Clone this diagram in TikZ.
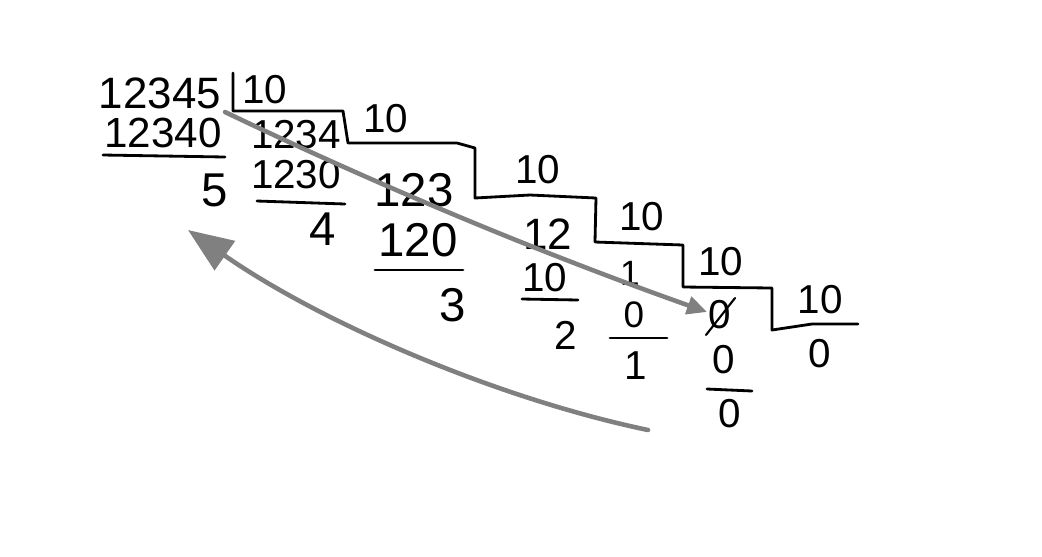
\documentclass[tikz,border=0pt]{standalone}
\usepackage{fontspec}
\setmainfont{Liberation Sans}
\usetikzlibrary{arrows.meta}
\definecolor{PenGray}{RGB}{128,128,128}
\tikzset{
  hand/.style={inner sep=0pt, font=\fontsize{23}{27}\selectfont},
  handbig/.style={inner sep=0pt, font=\fontsize{27}{32}\selectfont},
  pen/.style={line width=1.6pt, line cap=round, line join=round},
  trail/.style={PenGray, line width=2.6pt, line cap=round}
}

\begin{document}
\begin{tikzpicture}[x=0.02cm, y=-0.02cm]
    \useasboundingbox (0,0) rectangle (1042,556);
    % dividend and first subtraction
    \node[inner sep=0pt, font=\fontsize{25}{30}\selectfont] (dividend) at (160,93) {12345};
    \node[inner sep=0pt, font=\fontsize{24}{28}\selectfont] (s1) at (163,133) {12340};
    \node[handbig] (r1) at (215,190) {5};
    % divisors on the staircase
    \foreach \n/\x/\y in {d1/265/90, d2/386/119, d3/538/170, d4/642/217, d5/721/262, d6/820/300} {
        \node[hand] (\n) at (\x,\y) {10};
    }
    % quotients
    \node[hand] (q1) at (296,135) {1234};
    \node[handbig] (q2) at (414,190) {123};
    \node[font=\fontsize{25}{30}\selectfont, inner sep=0pt] (q3) at (548,234) {12};
    \node[font=\fontsize{20}{24}\selectfont, inner sep=0pt] (q4) at (630,273) {1};
    \node[hand] (q5) at (720,315) {0};
    \node[hand] (q6) at (820,354) {0};
    % subtractions
    \node[hand] (s2) at (296,175) {1230};
    \node[handbig] (s3) at (418,240) {120};
    \node[hand] (s4) at (545,278) {10};
    \node[font=\fontsize{21}{25}\selectfont, inner sep=0pt] (s5) at (634,315) {0};
    \node[hand] (s6) at (724,360) {0};
    % remainders
    \node[handbig] (r2) at (323,229) {4};
    \node[handbig] (r3) at (453,305) {3};
    \node[hand] (r4) at (566,335) {2};
    \node[hand] (r5) at (636,366) {1};
    \node[hand] (r6) at (730,414) {0};
    % staircase of division brackets
    \draw[pen] (233,73) -- (233,111) -- (343,111) -- (348,143) -- (457,143) -- (475,148)
        -- (475,198) -- (530,195) -- (596,198) -- (595,242) -- (683,245) -- (683,287)
        -- (772,288) -- (772,330) -- (812,324) -- (858,324);
    % underlines
    \foreach \xa/\ya/\xb/\yb in {103/155/225/157, 257/201/345/204, 375/270/463/270,
                                 522/299/578/300, 610/338/667/338, 707/389/752/391} {
        \draw[pen] (\xa,\ya) -- (\xb,\yb);
    }
    % slashed zero
    \draw[pen, line width=1.2pt] (706,335) -- (735,298);
    % reading direction
    \coordinate (downstart) at (225,112);
    \coordinate (downend) at (707,312);
    \coordinate (backstart) at (648,430);
    \coordinate (backend) at (188,230);
    \draw[trail, -{Triangle[length=0.4cm, width=0.36cm]}]
        (downstart) .. controls (386,189) and (546,255) .. (downend);
    \draw[trail, -{Triangle[length=0.9cm, width=0.7cm]}]
        (backstart) .. controls (495,398) and (320,322) .. (backend);
\end{tikzpicture}
\end{document}
